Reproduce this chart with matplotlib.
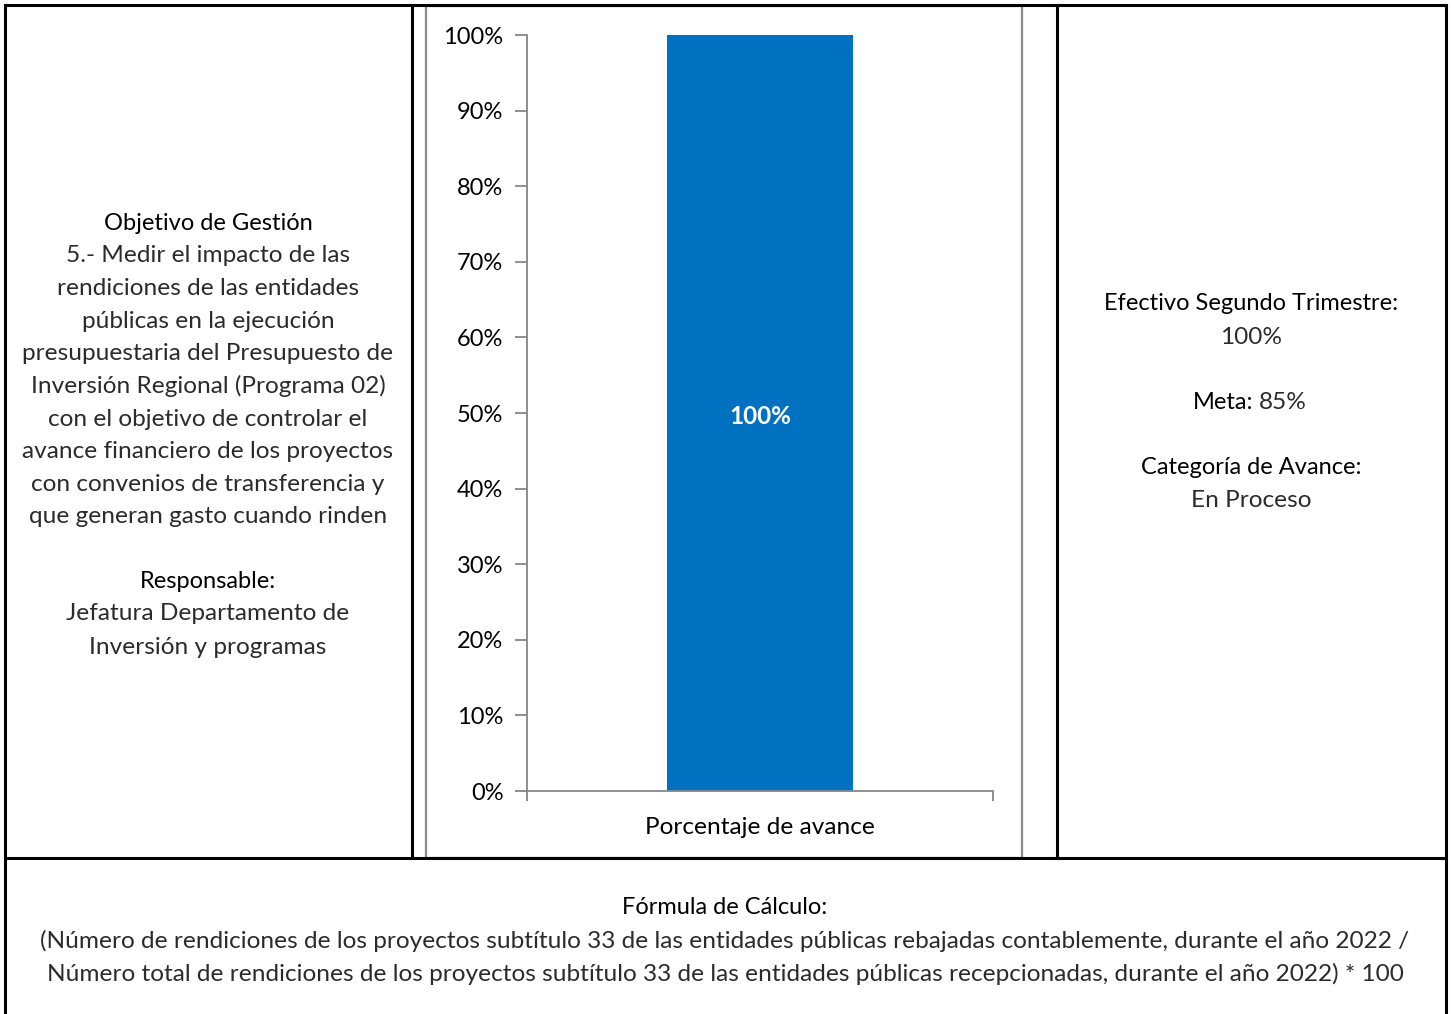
import matplotlib.pyplot as plt
from matplotlib.lines import Line2D
from matplotlib.patches import Rectangle

# data
categorias = ['Porcentaje de avance']
avance = [1.00]
ytick_vals = [0, 0.1, 0.2, 0.3, 0.4, 0.5, 0.6, 0.7, 0.8, 0.9, 1.0]
ytick_labels = ['0%', '10%', '20%', '30%', '40%', '50%', '60%', '70%', '80%', '90%', '100%']

objetivo = ['5.- Medir el impacto de las', 'rendiciones de las entidades',
            'públicas en la ejecución', 'presupuestaria del Presupuesto de',
            'Inversión Regional (Programa 02)', 'con el objetivo de controlar el',
            'avance financiero de los proyectos', 'con convenios de transferencia y',
            'que generan gasto cuando rinden']
responsable = ['Jefatura Departamento de', 'Inversión y programas']
formula = ['(Número de rendiciones de los proyectos subtítulo 33 de las entidades públicas rebajadas contablemente, durante el año 2022 /',
           'Número total de rendiciones de los proyectos subtítulo 33 de las entidades públicas recepcionadas, durante el año 2022) * 100']

W, H = 1451, 1014
plt.rcParams['font.family'] = ['Lato', 'DejaVu Sans']
fig = plt.figure(figsize=(W / 100, H / 100), dpi=100)

BODY = 17.6
HEAD = 17.0
BODY_C = '#2b2b2b'
DY = 2  # small downward nudge so the text sits like the original

def fx(px):
    return px / W

def fy(py):
    return 1 - py / H

def txt(x, y, s, size=BODY, weight='normal', color=BODY_C):
    fig.text(fx(x), fy(y + DY), s, ha='center', va='center', fontsize=size,
             fontweight=weight, color=color)

# table borders
def hline(y, x0, x1, lw=2.2, c='black'):
    fig.add_artist(Line2D([fx(x0), fx(x1)], [fy(y), fy(y)], lw=lw, color=c))

def vline(x, y0, y1, lw=2.2, c='black'):
    fig.add_artist(Line2D([fx(x), fx(x)], [fy(y0), fy(y1)], lw=lw, color=c))

hline(5, 5, 1446)
hline(858, 5, 1446)
vline(5, 5, 1014)
vline(1446, 5, 1014)
vline(412, 5, 858)
vline(1057, 5, 858)

# chart frame
fig.add_artist(Rectangle((fx(426), fy(858)), fx(1022) - fx(426), fy(6) - fy(858),
                         fill=False, edgecolor='#8c8c8c', lw=1.6))

# chart
ax = fig.add_axes([fx(527), fy(791), fx(993) - fx(527), fy(35) - fy(791)])
x = list(range(len(categorias)))
bars = ax.bar(x, avance, width=0.4, color='#0070C0', zorder=2)
for b, v in zip(bars, avance):
    ax.text(b.get_x() + b.get_width() / 2, v / 2 - 0.004, f'{v:.0%}', ha='center',
            va='center', color='white', fontsize=17.5, fontweight='bold')
ax.set_xlim(-0.5, 0.5)
ax.set_ylim(0, 1.0)
ax.set_yticks(ytick_vals)
ax.set_yticklabels(ytick_labels, fontsize=17, color='black')
ax.set_xticks(x)
ax.set_xticklabels(categorias, fontsize=17.6, color='black')
ax.set_xticks([-0.5, 0.5], minor=True)
ax.tick_params(axis='x', which='major', length=0, pad=18.5)
ax.tick_params(axis='x', which='minor', length=7, color='#868686', width=1.3, direction='out')
ax.tick_params(axis='y', length=9, color='#868686', width=1.3, pad=8)
for s in ['top', 'right']:
    ax.spines[s].set_visible(False)
for s in ['left', 'bottom']:
    ax.spines[s].set_color('#868686')
    ax.spines[s].set_linewidth(1.3)
ax.set_facecolor('none')

# left cell
txt(208, 221, 'Objetivo de Gestión', size=HEAD, color='black')
for i, line in enumerate(objetivo):
    txt(208, 254 + i * 32.6, line)
txt(208, 579, 'Responsable:', size=HEAD, color='black')
for i, line in enumerate(responsable):
    txt(208, 612 + i * 33, line)

# right cell
txt(1251, 302, 'Efectivo Segundo Trimestre:', size=HEAD, color='black')
txt(1251, 335, '100%')
fig.text(fx(1253), fy(401 + DY), 'Meta:', ha='right', va='center', fontsize=HEAD, color='black')
fig.text(fx(1259), fy(401 + DY), '85%', ha='left', va='center', fontsize=BODY, color=BODY_C)
txt(1251, 466, 'Categoría de Avance:', size=HEAD, color='black')
txt(1251, 498, 'En Proceso')

# bottom row
txt(725, 906, 'Fórmula de Cálculo:', size=HEAD, color='black')
for i, line in enumerate(formula):
    txt(725, 939 + i * 32.5, line)

fig.savefig('out.png', dpi=100)
